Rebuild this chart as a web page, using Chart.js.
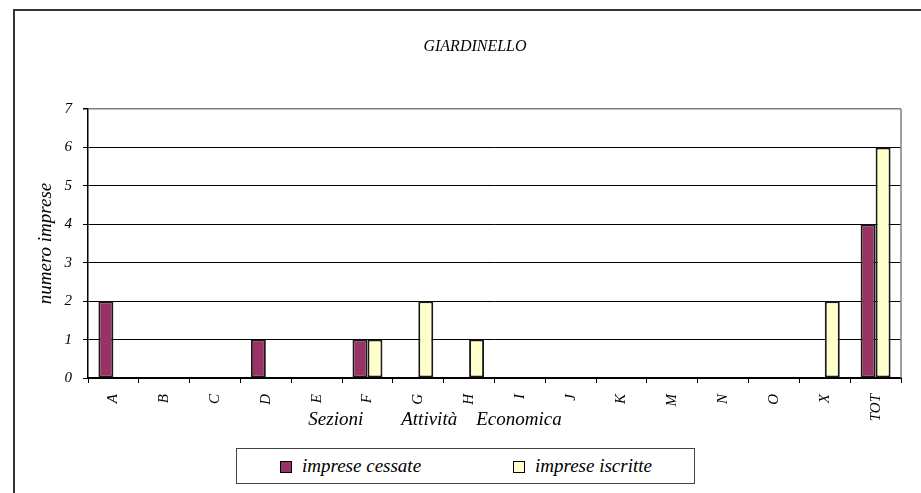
<!DOCTYPE html>
<html>
<head>
<meta charset="utf-8">
<script src="https://cdn.jsdelivr.net/npm/chart.js@4/dist/chart.umd.min.js"></script>
<style>
  html, body { margin: 0; padding: 0; background: #fff; overflow: hidden; width: 921px; height: 493px; }
  #frame { position: absolute; left: 13px; top: 9px; width: 1000px; height: 1000px; border: 2px solid #333; box-sizing: border-box; }
  #c { position: absolute; left: 0; top: 0; }
  #legend { position: absolute; left: 236px; top: 448px; width: 459px; height: 36px; border: 1.5px solid #444; box-sizing: border-box; background: #fff; font-family: 'Liberation Serif', 'Times New Roman', serif; font-style: italic; font-size: 19px; color: #000; }
  .li { position: absolute; top: 0; height: 33px; line-height: 33px; white-space: nowrap; }
  .sw { display: inline-block; width: 12px; height: 12px; border: 1.5px solid #000; box-sizing: border-box; vertical-align: middle; margin-right: 10px; position: relative; top: -1px; }
</style>
</head>
<body>
<div id="frame"></div>
<canvas id="c" width="921" height="493"></canvas>
<div id="legend"></div>
<script>
const categories = ['A','B','C','D','E','F','G','H','I','J','K','M','N','O','X','TOT'];
const impreseCessate  = [2,0,0,1,0,1,0,0,0,0,0,0,0,0,0,4];
const impreseIscritte = [0,0,0,0,0,1,2,1,0,0,0,0,0,0,2,6];
const seriesNames = ['imprese cessate', 'imprese iscritte'];
const seriesColors = ['#993366', '#FFFFCC'];
const yTicks = [0,1,2,3,4,5,6,7];
const chartTitle = 'GIARDINELLO';
const xTitle = 'Sezioni        Attività    Economica';
const yTitle = 'numero imprese';

const FONT = "'Liberation Serif', 'Times New Roman', serif";

const extras = {
  id: 'extras',
  afterDraw(chart) {
    const ctx = chart.ctx;
    const a = chart.chartArea;
    ctx.save();
    // right border of plot area
    ctx.strokeStyle = '#808080';
    ctx.lineWidth = 1.5;
    ctx.beginPath();
    ctx.moveTo(a.right, a.top);
    ctx.lineTo(a.right, a.bottom);
    ctx.stroke();
    // x-axis title
    ctx.fillStyle = '#000';
    ctx.font = 'italic 19px ' + FONT;
    ctx.textAlign = 'center';
    ctx.textBaseline = 'middle';
    const xs = chart.scales.x;
    ctx.fillText(xTitle, a.left + (a.right - a.left) * 0.4268, xs.bottom - 73);
    ctx.restore();
  }
};

const chart = new Chart(document.getElementById('c'), {
  type: 'bar',
  data: {
    labels: categories,
    datasets: [
      { label: seriesNames[0], data: impreseCessate, backgroundColor: seriesColors[0] },
      { label: seriesNames[1], data: impreseIscritte, backgroundColor: seriesColors[1] }
    ]
  },
  options: {
    responsive: false,
    animation: false,
    devicePixelRatio: 1,
    layout: { padding: { left: 49, right: 20, top: 0, bottom: 0 } },
    datasets: {
      bar: {
        categoryPercentage: 0.59,
        barPercentage: 1.0,
        borderWidth: 2,
        borderColor: '#1a1a1a',
        borderSkipped: false
      }
    },
    plugins: {
      legend: { display: false },
      tooltip: { enabled: false },
      title: {
        display: true,
        text: chartTitle,
        color: '#000',
        font: { family: FONT, size: 16, style: 'italic', weight: 'normal' },
        padding: { top: 37.4, bottom: 52.4 }
      }
    },
    scales: {
      x: {
        grid: { display: true, drawOnChartArea: false, drawTicks: true, tickLength: 5, color: '#000', offset: true },
        border: { display: true, color: '#000', width: 2 },
        ticks: {
          color: '#000', autoSkip: false, minRotation: 90, maxRotation: 90, padding: 11,
          font: { family: FONT, size: 15, style: 'italic' }
        },
        afterFit(scale) { scale.height = 115; }
      },
      y: {
        min: 0, max: 7,
        afterBuildTicks(scale) { scale.ticks = yTicks.map(v => ({ value: v })); },
        grid: {
          color: (c) => (c.tick && c.tick.value === 7) ? '#808080' : '#000',
          lineWidth: (c) => (c.tick && c.tick.value === 7) ? 1.5 : 1,
          tickColor: '#000',
          tickLength: 5
        },
        border: { display: true, color: '#000', width: 1.5 },
        ticks: {
          color: '#000', padding: 11,
          font: { family: FONT, size: 15, style: 'italic' }
        },
        title: {
          display: true, text: yTitle, color: '#000',
          font: { family: FONT, size: 19, style: 'italic' },
          padding: { top: -14, bottom: 0 }
        },
        afterFit(scale) { scale.width = 39; }
      }
    }
  },
  plugins: [extras]
});

// HTML legend built from the chart's datasets
const legendEl = document.getElementById('legend');
const legendLefts = [43, 276];
chart.data.datasets.forEach((ds, i) => {
  const item = document.createElement('div');
  item.className = 'li';
  item.style.left = legendLefts[i] + 'px';
  const sw = document.createElement('span');
  sw.className = 'sw';
  sw.style.background = ds.backgroundColor;
  item.appendChild(sw);
  item.appendChild(document.createTextNode(ds.label));
  legendEl.appendChild(item);
});
</script>
</body>
</html>
